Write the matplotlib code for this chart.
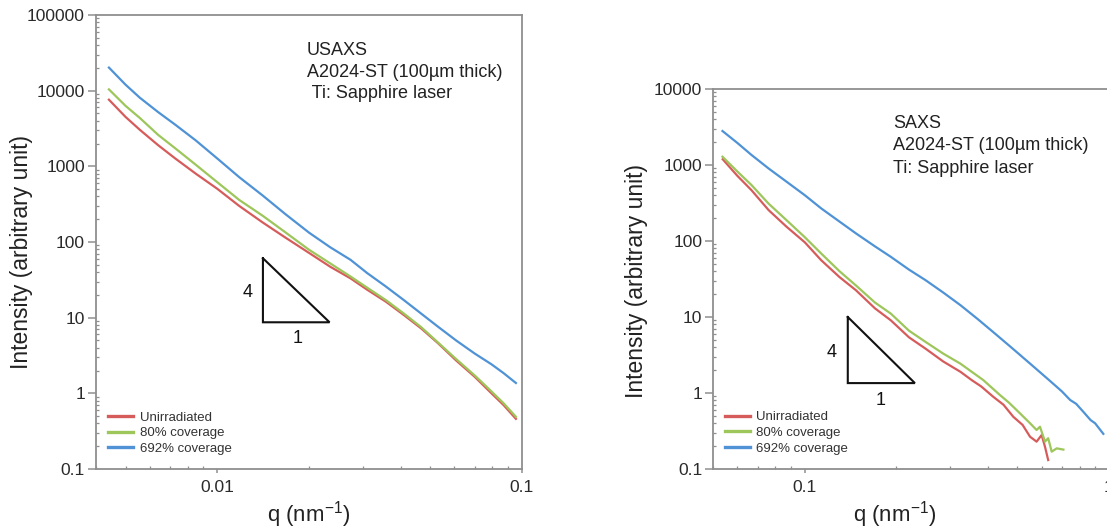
import matplotlib
matplotlib.use("Agg")
import matplotlib.pyplot as plt
from matplotlib.ticker import FixedLocator, LogLocator, NullFormatter

plt.rcParams['font.family'] = ['Liberation Sans', 'DejaVu Sans']
plt.rcParams['mathtext.fontset'] = 'custom'
plt.rcParams['mathtext.rm'] = 'Liberation Sans'
plt.rcParams['mathtext.it'] = 'Liberation Sans'
plt.rcParams['mathtext.default'] = 'rm'

# ---------------- data: USAXS (left) ----------------
q_usaxs = [0.00441, 0.0050, 0.00557, 0.0064, 0.00728, 0.0085, 0.0100, 0.0118,
           0.0141, 0.0167, 0.0200, 0.0235, 0.0274, 0.0310, 0.0358, 0.041,
           0.0467, 0.053, 0.0609, 0.070, 0.0794, 0.0870, 0.0955]
I_us_unirr = [7600, 4500, 3040, 1900, 1270, 800, 505, 300,
              181, 115, 71.8, 47.0, 33.0, 23.5, 16.2, 10.8,
              7.2, 4.6, 2.7, 1.65, 1.0, 0.70, 0.46]
I_us_80 = [10400, 6300, 4360, 2600, 1730, 1050, 617, 360,
           222, 135, 79.0, 52.0, 34.9, 25.0, 17.0, 11.3,
           7.48, 4.7, 2.82, 1.72, 1.06, 0.74, 0.49]
I_us_692 = [20200, 12000, 8070, 5200, 3550, 2200, 1270, 720,
            411, 235, 133, 85.0, 58.0, 39.0, 25.7, 17.0,
            11.3, 7.6, 4.97, 3.35, 2.42, 1.85, 1.37]

# ---------------- data: SAXS (right) ----------------
q_saxs_unirr = [0.0537, 0.0600, 0.0667, 0.0760, 0.0869, 0.1000, 0.1131, 0.1300,
                0.1472, 0.1700, 0.1916, 0.2200, 0.2494, 0.2850, 0.3248,
                0.3535, 0.3800, 0.416, 0.450, 0.4844, 0.520, 0.550, 0.578, 0.6005,
                0.616, 0.631]
I_saxs_unirr = [1190, 720, 468, 255, 155, 96, 56.0, 33.5,
                22.5, 13.0, 9.06, 5.4, 3.83, 2.6, 1.90,
                1.48, 1.22, 0.894, 0.70, 0.487, 0.38, 0.266, 0.229, 0.28,
                0.196, 0.131]
q_saxs_80 = [0.0536, 0.0600, 0.0667, 0.0760, 0.0869, 0.1000, 0.1131, 0.1300,
             0.1472, 0.1700, 0.1916, 0.2200, 0.2494, 0.2850, 0.3248,
             0.386, 0.438, 0.470, 0.5096, 0.550, 0.578, 0.593, 0.616, 0.631,
             0.648, 0.673, 0.708]
I_saxs_80 = [1285, 820, 547, 310, 189, 112, 68.6, 40.0,
             26.0, 15.5, 11.1, 6.6, 4.7, 3.3, 2.43,
             1.48, 0.94, 0.74, 0.54, 0.40, 0.326, 0.36, 0.229, 0.254,
             0.169, 0.187, 0.18]
q_saxs_692 = [0.0536, 0.0600, 0.0667, 0.0760, 0.0869, 0.1000, 0.1131, 0.1300,
              0.1472, 0.1700, 0.1916, 0.2200, 0.2494, 0.2850, 0.3248,
              0.370, 0.4229, 0.480, 0.5506, 0.640, 0.700, 0.745, 0.780, 0.823,
              0.870, 0.900, 0.958]
I_saxs_692 = [2800, 1950, 1360, 900, 606, 400, 269, 180,
              126, 85, 62.0, 42.0, 30.5, 21.0, 14.3,
              9.4, 6.0, 3.9, 2.43, 1.44, 1.05, 0.81, 0.72, 0.567,
              0.44, 0.40, 0.29]

series_labels = ['Unirradiated', '80% coverage', '692% coverage']
colors = ['#d65c5c', '#9dc65b', '#4f93d6']

# slope triangles (q, I) vertices
tri_us_q = [0.01412, 0.01412, 0.02336, 0.01412]
tri_us_I = [61.0, 8.69, 8.69, 61.0]
tri_saxs_q = [0.1384, 0.1384, 0.230, 0.1384]
tri_saxs_I = [10.0, 1.35, 1.35, 10.0]

us_yticks = [0.1, 1, 10, 100, 1000, 10000, 100000]
us_yticklabels = ['0.1', '1', '10', '100', '1000', '10000', '100000']
us_xticks = [0.01, 0.1]
us_xticklabels = ['0.01', '0.1']
sx_yticks = [0.1, 1, 10, 100, 1000, 10000]
sx_yticklabels = ['0.1', '1', '10', '100', '1000', '10000']
sx_xticks = [0.1, 1]
sx_xticklabels = ['0.1', '1']

W, H = 1107, 529
fig = plt.figure(figsize=(W / 100, H / 100), dpi=100)
ax1 = fig.add_axes([96 / W, 1 - 469 / H, 426 / W, 454 / H])
ax2 = fig.add_axes([713.3 / W, 1 - 469 / H, 395.7 / W, 380 / H])

spine_col = '#8f8f8f'
lab_col = '#2a2a2a'


def style(ax, xlim, ylim, xt, xtl, yt, ytl):
    ax.set_xscale('log')
    ax.set_yscale('log')
    ax.set_xlim(*xlim)
    ax.set_ylim(*ylim)
    for s in ax.spines.values():
        s.set_color(spine_col)
        s.set_linewidth(1.3)
    ax.xaxis.set_major_locator(FixedLocator(xt))
    ax.set_xticklabels(xtl)
    ax.yaxis.set_major_locator(FixedLocator(yt))
    ax.set_yticklabels(ytl)
    ax.xaxis.set_minor_locator(LogLocator(base=10, subs=range(2, 10), numticks=20))
    ax.yaxis.set_minor_locator(LogLocator(base=10, subs=range(2, 10), numticks=20))
    ax.xaxis.set_minor_formatter(NullFormatter())
    ax.yaxis.set_minor_formatter(NullFormatter())
    ax.tick_params(axis='y', which='major', direction='out', length=6, width=1.1,
                   color=spine_col, labelsize=12.5, labelcolor=lab_col, pad=2)
    ax.tick_params(axis='x', which='major', direction='out', length=3, width=1.1,
                   color=spine_col, labelsize=12.5, labelcolor=lab_col, pad=5)
    ax.tick_params(which='minor', direction='in', length=2, width=0.9, color=spine_col)
    ax.tick_params(top=False, right=False, which='both')


style(ax1, (0.004, 0.1), (0.1, 100000), us_xticks, us_xticklabels, us_yticks, us_yticklabels)
style(ax2, (0.05, 1.0), (0.1, 10000), sx_xticks, sx_xticklabels, sx_yticks, sx_yticklabels)

lw = 1.6
for I, c, lab in zip([I_us_unirr, I_us_80, I_us_692], colors, series_labels):
    ax1.plot(q_usaxs, I, color=c, lw=lw, label=lab)
ax2.plot(q_saxs_unirr, I_saxs_unirr, color=colors[0], lw=lw, label=series_labels[0])
ax2.plot(q_saxs_80, I_saxs_80, color=colors[1], lw=lw, label=series_labels[1])
ax2.plot(q_saxs_692, I_saxs_692, color=colors[2], lw=lw, label=series_labels[2])

ax1.plot(tri_us_q, tri_us_I, color='#111111', lw=1.5, solid_joinstyle='miter')
ax2.plot(tri_saxs_q, tri_saxs_I, color='#111111', lw=1.5, solid_joinstyle='miter')
ax1.text(0.01262, 21.4, '4', fontsize=13, ha='center', va='center', color='#111111')
ax1.text(0.01829, 5.33, '1', fontsize=13, ha='center', va='center', color='#111111')
ax2.text(0.1229, 3.36, '4', fontsize=13, ha='center', va='center', color='#111111')
ax2.text(0.177, 0.79, '1', fontsize=13, ha='center', va='center', color='#111111')

# annotations
for txt, y in zip(['USAXS', 'A2024-ST (100\u00b5m thick)', ' Ti: Sapphire laser'],
                  [0.922, 0.874, 0.826]):
    ax1.text(0.495, y, txt, transform=ax1.transAxes, fontsize=13, ha='left',
             va='center', color='#222222')
for txt, y in zip(['SAXS', 'A2024-ST (100\u00b5m thick)', 'Ti: Sapphire laser'],
                  [0.910, 0.851, 0.791]):
    ax2.text(0.455, y, txt, transform=ax2.transAxes, fontsize=13, ha='left',
             va='center', color='#222222')

# labels
for ax, yx, yy, xx, xy in [(ax1, -0.148, 0.478, 0.5, -0.066),
                           (ax2, -0.165, 0.495, 0.458, -0.080)]:
    ax.set_ylabel('Intensity (arbitrary unit)', fontsize=16.5, color='#222222')
    ax.yaxis.set_label_coords(yx, yy)
    ax.set_xlabel('q (nm$^{-1}$)', fontsize=16, color='#222222')
    ax.xaxis.set_label_coords(xx, xy)

for ax, anchor in [(ax1, (0.028, 0.031)), (ax2, (0.029, 0.038))]:
    leg = ax.legend(loc='lower left', bbox_to_anchor=anchor, frameon=False,
                    fontsize=9.5, handlelength=1.9, handletextpad=0.5,
                    labelspacing=0.25, borderpad=0, borderaxespad=0)
    for ln in leg.get_lines():
        ln.set_linewidth(2.4)
    for t in leg.get_texts():
        t.set_color('#333333')

fig.savefig('out.png', dpi=100)
